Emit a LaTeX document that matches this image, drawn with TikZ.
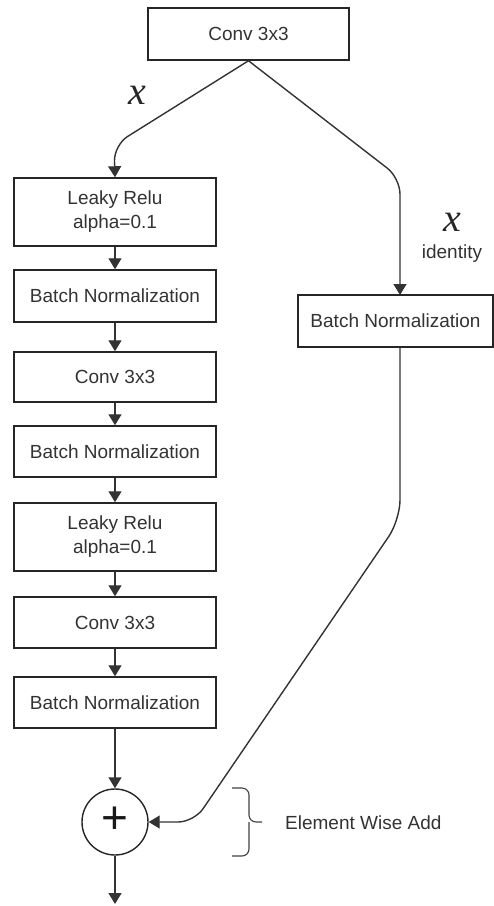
\documentclass[tikz,border=0pt]{standalone}
\usepackage{fontspec}
\setmainfont{Liberation Sans}
\newfontfamily\xserif{Liberation Serif}
\usetikzlibrary{arrows.meta,calc}
\begin{document}
\begin{tikzpicture}[x=1pt,y=-1pt,
  box/.style={draw=black!85,line width=1.5pt,fill=white,inner sep=0pt,minimum width=202pt,
    text=black!80,font=\fontsize{19}{24}\selectfont,align=center},
  conn/.style={draw=black!80,line width=1.4pt,-{Triangle[width=13pt,length=11pt]}},
  lbl/.style={text=black!80,font=\fontsize{19}{24}\selectfont,inner sep=0pt},
  xlbl/.style={text=black!85,font=\xserif\itshape\fontsize{40}{40}\selectfont,inner sep=0pt}]
\useasboundingbox (0,0) rectangle (494,906);
\node[box,minimum width=201pt,minimum height=52pt] (top) at (248.5,34) {Conv 3x3};
\node[box,minimum height=68pt] (leaky1) at (115,212) {Leaky Relu\\alpha=0.1};
\node[box,minimum height=52pt] (bn1) at (115,296) {Batch Normalization};
\node[box,minimum height=50pt] (conv1) at (115,377) {Conv 3x3};
\node[box,minimum height=51pt] (bn2) at (115,451.5) {Batch Normalization};
\node[box,minimum height=68pt] (leaky2) at (115,537) {Leaky Relu\\alpha=0.1};
\node[box,minimum height=51pt] (conv2) at (115,622.5) {Conv 3x3};
\node[box,minimum height=51pt] (bn3) at (115,702.5) {Batch Normalization};
\node[box,minimum width=195pt,minimum height=52pt] (bnr) at (395.5,321) {Batch Normalization};
\node[circle,draw=black!85,line width=1.4pt,minimum size=66pt,inner sep=0pt] (add) at (115,822) {};
\node[text=black!90,font=\fontsize{46}{46}\selectfont,inner sep=0pt] (plus) at (115,820) {+};
\coordinate (out) at (115,904);
\coordinate (bnrin) at (400,295);
\coordinate (bnrout) at (400,347);
% left branch
\draw[conn,rounded corners=16pt] (top.south) -- (114,145) -- (leaky1.north);
\draw[conn] (leaky1) -- (bn1);
\draw[conn] (bn1) -- (conv1);
\draw[conn] (conv1) -- (bn2);
\draw[conn] (bn2) -- (leaky2);
\draw[conn] (leaky2) -- (conv2);
\draw[conn] (conv2) -- (bn3);
\draw[conn] (bn3) -- (add);
\draw[conn] (add) -- (out);
% right branch
\draw[conn,rounded corners=16pt] (top.south) -- (400,178) -- (bnrin);
\draw[conn,rounded corners=20pt] (bnrout) -- (400,520) [rounded corners=16pt] -- (194,822) -- (add.east);
% labels
\node[xlbl] (xl) at (137,95) {x};
\node[xlbl] (xr) at (452,222) {x};
\node[lbl] (id) at (452,254) {identity};
% brace
\draw[black!75,line width=1.1pt,rounded corners=7pt] (232,788) -- (249,788) -- (249,822) -- (262,822);
\draw[black!75,line width=1.1pt,rounded corners=7pt] (232,856) -- (249,856) -- (249,822);
\node[lbl,anchor=west] (ewa) at (285,823) {Element Wise Add};
\end{tikzpicture}
\end{document}
